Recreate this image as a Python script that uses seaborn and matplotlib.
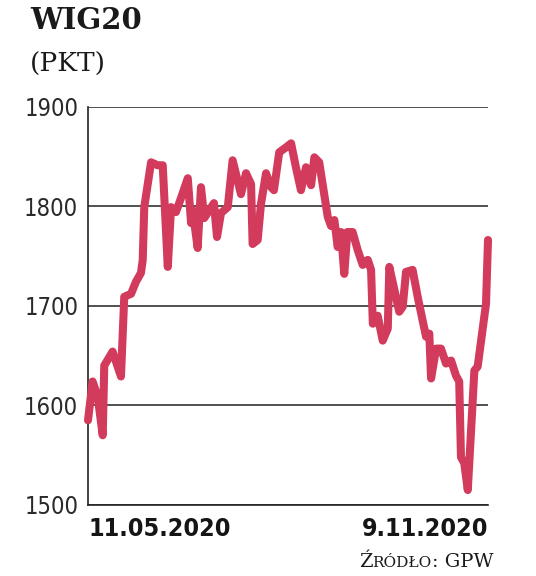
import matplotlib
matplotlib.use("Agg")
import matplotlib.pyplot as plt
import seaborn as sns
import pandas as pd

# ---------------- data ----------------
start_date = "2020-05-11"
day_offset = [0, 2.1, 4.4, 6.7, 7.4, 11.2, 15.0, 16.5, 19.6, 21.8,
              24.1, 24.9, 25.6, 28.7, 31.7, 34.0, 36.3, 37.8, 40.0, 42.3,
              45.4, 46.9, 47.6, 49.9, 51.4, 52.9, 57.3, 58.7, 60.5, 63.6,
              65.8, 69.6, 71.9, 74.2, 74.9, 77.2, 78.7, 81.0, 83.3, 84.6,
              87.0, 90.1, 92.4, 94.6, 96.9, 99.2, 101.5, 103.0, 105.2, 109.1,
              110.6, 112.1, 113.6, 115.1, 116.6, 118.0, 120.4, 122.7, 125.0, 127.3,
              128.8, 129.6, 131.8, 134.1, 136.4, 137.1, 139.4, 141.6, 143.2, 144.7,
              147.7, 150.0, 153.8, 155.3, 156.1, 158.4, 160.6, 162.9, 165.2, 167.4,
              168.9, 169.7, 171.2, 172.8, 175.8, 177.3, 181.1, 182.0]
wig20 = [1585, 1624, 1609, 1570, 1640, 1654, 1629, 1709, 1712, 1724,
         1733, 1746, 1799, 1844, 1841, 1841, 1739, 1799, 1794, 1808,
         1828, 1783, 1796, 1758, 1819, 1788, 1803, 1769, 1793, 1799,
         1846, 1812, 1833, 1822, 1762, 1766, 1802, 1833, 1819, 1816,
         1854, 1859, 1863, 1839, 1816, 1839, 1821, 1849, 1844, 1789,
         1780, 1786, 1759, 1774, 1732, 1774, 1774, 1756, 1741, 1746,
         1736, 1682, 1690, 1665, 1677, 1739, 1716, 1694, 1699, 1734,
         1736, 1709, 1669, 1672, 1627, 1657, 1657, 1642, 1645, 1630,
         1624, 1548, 1542, 1515, 1635, 1639, 1702, 1766]
y_ticks = [1500, 1600, 1700, 1800, 1900]
x_tick_dates = ["2020-05-11", "2020-11-09"]
x_tick_labels = ["11.05.2020", "9.11.2020"]
title = "WIG20"
unit = "(PKT)"
source_parts = ["Ź", "RÓDŁO", ": GPW"]

# ---------------- style ----------------
sns.set_style("white")
plt.rcParams['font.family'] = ['DejaVu Sans']

LINE_COLOR = "#d23b5c"
SERIF = ['DejaVu Serif']

df = pd.DataFrame({
    "date": pd.Timestamp(start_date) + pd.to_timedelta(day_offset, unit="D"),
    "value": wig20,
})

W, H = 536, 576
fig = plt.figure(figsize=(W / 100, H / 100), dpi=100)
ax = fig.add_axes([88 / W, 1 - 505 / H, 400 / W, (505 - 106.5) / H])

sns.lineplot(data=df, x="date", y="value", ax=ax, color=LINE_COLOR,
             linewidth=5.8, solid_capstyle="round", solid_joinstyle="round",
             zorder=3, clip_on=False)

ax.set_ylim(1500, 1900)
ax.set_xlim(pd.Timestamp(x_tick_dates[0]), pd.Timestamp(x_tick_dates[1]))
ax.set_yticks(y_ticks)
ax.set_yticklabels([str(v) for v in y_ticks], family=['DejaVu Sans'],
                   fontstretch='condensed', fontsize=17, color="#2a2a2a")
ax.set_xticks([pd.Timestamp(d) for d in x_tick_dates])
ax.set_xticklabels(x_tick_labels, family=['DejaVu Sans'],
                   fontstretch='condensed', fontsize=18,
                   fontweight="bold", color="#151515")
xt = ax.get_xticklabels()
xt[0].set_horizontalalignment("left")
xt[1].set_horizontalalignment("right")
ax.tick_params(axis="both", length=0)
ax.tick_params(axis="y", pad=7)
ax.tick_params(axis="x", pad=9)
ax.set_xlabel("")
ax.set_ylabel("")

ax.yaxis.grid(True, color="#222222", linewidth=1.1)
ax.xaxis.grid(False)
ax.set_axisbelow(True)
for s in ["top", "right"]:
    ax.spines[s].set_visible(False)
for s in ["left", "bottom"]:
    ax.spines[s].set_color("#222222")
    ax.spines[s].set_linewidth(1.2)

# title
fig.text(30 / W, 1 - 6 / H, title, ha="left", va="top", fontsize=21,
         fontweight="bold", family=SERIF, color="#1a1a1a")
fig.text(30 / W, 1 - 64 / H, unit, ha="left", va="center", fontsize=19,
         family=SERIF, color="#1a1a1a")

# source in small caps, built right-to-left
fig.canvas.draw()
renderer = fig.canvas.get_renderer()
x_right = 493
y_base = 1 - 567 / H
sizes = [14, 11, 14]
for part, size in zip(reversed(source_parts), reversed(sizes)):
    t = fig.text(x_right / W, y_base, part, ha="right", va="baseline",
                 fontsize=size, family=SERIF, color="#1a1a1a")
    bb = t.get_window_extent(renderer=renderer)
    x_right -= bb.width

fig.savefig("out.png", dpi=100)
